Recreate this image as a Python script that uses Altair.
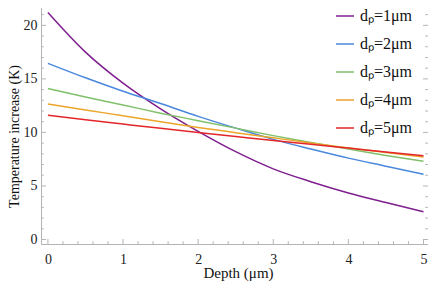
import altair as alt
import pandas as pd

# ---- data ----
depth = [0, 0.5, 1, 1.5, 2, 2.5, 3, 3.5, 4, 4.5, 5]
t_dp1 = [21.2, 17.5, 14.6, 12.2, 10.1, 8.2, 6.6, 5.4, 4.35, 3.45, 2.6]
t_dp2 = [16.45, 15.1, 13.85, 12.7, 11.5, 10.4, 9.35, 8.45, 7.6, 6.85, 6.1]
t_dp3 = [14.1, 13.3, 12.56, 11.8, 11.1, 10.4, 9.7, 9.05, 8.45, 7.85, 7.3]
t_dp4 = [12.65, 12.1, 11.55, 11.0, 10.47, 9.98, 9.5, 9.02, 8.55, 8.12, 7.7]
t_dp5 = [11.6, 11.18, 10.78, 10.38, 9.99, 9.62, 9.25, 8.9, 8.54, 8.18, 7.83]
series = [t_dp1, t_dp2, t_dp3, t_dp4, t_dp5]
labels = ["dₚ=1μm", "dₚ=2μm", "dₚ=3μm", "dₚ=4μm", "dₚ=5μm"]
colors = ["#7F1F8F", "#4A88DD", "#80C06A", "#EBA529", "#E3262A"]

x_major = [0, 1, 2, 3, 4, 5]
x_minor = [0.2, 0.4, 0.6, 0.8, 1.2, 1.4, 1.6, 1.8, 2.2, 2.4, 2.6, 2.8,
           3.2, 3.4, 3.6, 3.8, 4.2, 4.4, 4.6, 4.8]
y_major = [0, 5, 10, 15, 20]
y_minor = [1, 2, 3, 4, 6, 7, 8, 9, 11, 12, 13, 14, 16, 17, 18, 19, 21, 22]

x_dom = [-0.092, 5.06]
y_dom = [-0.42, 22.46]

rows = []
for lab, vals in zip(labels, series):
    for d, v in zip(depth, vals):
        rows.append({"depth": d, "temp": v, "series": lab})
df = pd.DataFrame(rows)

FRAME = "#b4b4b4"
FONT = "Liberation Serif, Times New Roman, Times, serif"
xs = alt.Scale(domain=x_dom, nice=False, zero=False)
ys = alt.Scale(domain=y_dom, nice=False, zero=False)

xaxis = alt.Axis(values=x_major, format="d", ticks=False, domain=False,
                 grid=False, labelFont=FONT, labelFontSize=14,
                 labelColor="#222222", labelPadding=8, labelFlush=False,
                 title="Depth (μm)", titleFont=FONT, titleFontSize=15,
                 titleFontWeight="normal", titleColor="#111111",
                 titleBaseline="alphabetic", titleY=33, titleX=197)
yaxis = alt.Axis(values=y_major, format="d", ticks=False, domain=False,
                 grid=False, labelFont=FONT, labelFontSize=14,
                 labelColor="#222222", labelPadding=4, labelFlush=False,
                 title="Temperature increase (K)", titleFont=FONT,
                 titleFontSize=14, titleFontWeight="normal",
                 titleColor="#111111", titleAngle=-90,
                 titleBaseline="alphabetic", titleAlign="center",
                 titleX=-23, titleY=137)

lines = alt.Chart(df).mark_line(strokeWidth=1.5, clip=True,
                                interpolate="monotone").encode(
    x=alt.X("depth:Q", scale=xs, axis=xaxis),
    y=alt.Y("temp:Q", scale=ys, axis=yaxis),
    color=alt.Color("series:N", sort=labels,
                    scale=alt.Scale(domain=labels, range=colors),
                    legend=alt.Legend(title=None, orient="none",
                                      legendX=294, legendY=7,
                                      symbolType="stroke", symbolSize=324,
                                      symbolStrokeWidth=1.5,
                                      labelFont=FONT, labelFontSize=16,
                                      labelColor="#111111", labelOffset=5,
                                      rowPadding=10, padding=0)),
)


def xticks(vals, size, edge):
    d = pd.DataFrame({"v": vals})
    return alt.Chart(d).mark_tick(orient="vertical", size=size, thickness=1,
                                  color=FRAME, opacity=1, clip=True).encode(
        x=alt.X("v:Q", scale=xs, axis=xaxis),
        y=alt.YDatum(datum=edge, type="quantitative", scale=ys, axis=yaxis),
    )


def yticks(vals, size, edge):
    d = pd.DataFrame({"v": vals})
    return alt.Chart(d).mark_tick(orient="horizontal", size=size, thickness=1,
                                  color=FRAME, opacity=1, clip=True).encode(
        y=alt.Y("v:Q", scale=ys, axis=yaxis),
        x=alt.XDatum(datum=edge, type="quantitative", scale=xs, axis=xaxis),
    )


layers = [
    lines,
    xticks(x_major, 10, y_dom[0]), xticks(x_minor, 5.5, y_dom[0]),
    xticks(x_major, 10, y_dom[1]), xticks(x_minor, 5.5, y_dom[1]),
    yticks(y_major, 10, x_dom[0]), yticks(y_minor, 5.5, x_dom[0]),
    yticks(y_major, 10, x_dom[1]), yticks(y_minor, 5.5, x_dom[1]),
]

chart = alt.layer(*layers).properties(
    width=387, height=245,
    autosize=alt.AutoSizeParams(type="none"),
    padding={"left": 33, "top": -9, "right": 0, "bottom": 40},
    background="white",
).configure_view(stroke=FRAME, strokeWidth=1)

chart.save("out.html", embed_options={"renderer": "svg", "actions": False})
